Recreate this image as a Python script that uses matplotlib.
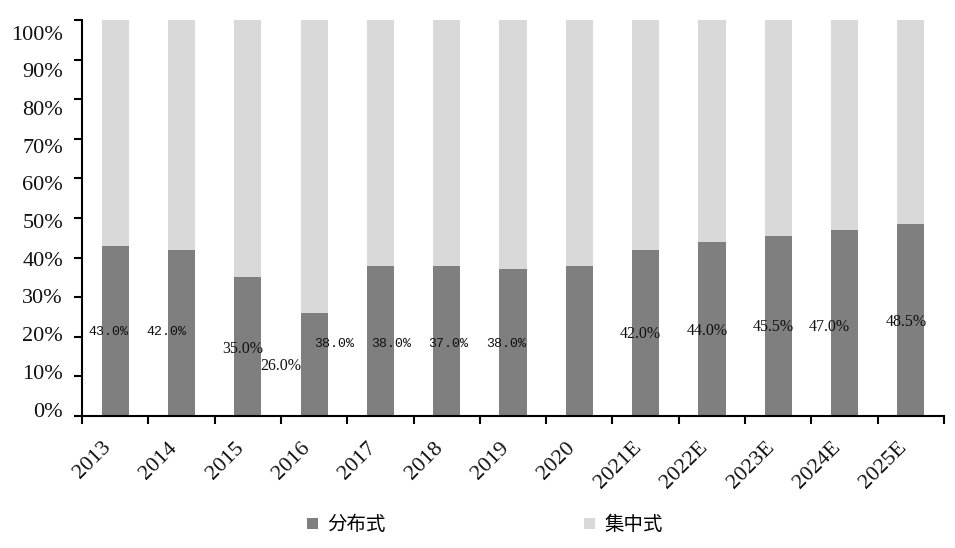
import matplotlib
matplotlib.use("Agg")
import matplotlib.pyplot as plt
import matplotlib.transforms as mtransforms
import numpy as np
from matplotlib.ticker import FixedLocator, NullFormatter

categories = ["2013", "2014", "2015", "2016", "2017", "2018", "2019", "2020",
              "2021E", "2022E", "2023E", "2024E", "2025E"]
distributed = [43.0, 42.0, 35.0, 26.0, 38.0, 38.0, 37.0, 38.0,
               42.0, 44.0, 45.5, 47.0, 48.5]
centralized = [100 - v for v in distributed]
series_names = ["分布式", "集中式"]
y_ticks = list(range(0, 101, 10))
y_tick_labels = [f"{t}%" for t in y_ticks]

# label placement (as drawn in the source chart, in category / percent units)
label_x = [-0.11, 0.77, 1.93, 2.49, 3.30, 4.16, 5.02, 5.90,
           7.92, 8.93, 9.92, 10.77, 11.93]
label_y = [21.2, 21.2, 16.9, 12.6, 18.2, 18.2, 18.2, 18.2,
           20.7, 21.5, 22.5, 22.5, 23.7]
label_small = [True, True, False, False, True, True, True, True,
               False, False, False, False, False]

dark = "#7f7f7f"
light = "#d9d9d9"
serif = ["Liberation Serif", "DejaVu Serif"]

fig = plt.figure(figsize=(9.55, 5.48), dpi=100)
ax = fig.add_axes([0.0859, 1 - 416 / 548, 0.9885 - 0.0859, (416 - 20) / 548])

x = np.arange(len(categories))
w = 0.41
ax.bar(x, distributed, w, color=dark, label=series_names[0], zorder=2)
ax.bar(x, centralized, w, bottom=distributed, color=light,
       label=series_names[1], zorder=2)

for v, lx, ly, small in zip(distributed, label_x, label_y, label_small):
    txt = f"{v:.1f}%"
    if small:
        ax.text(lx, ly, txt, ha="center", va="center", fontsize=9.5,
                family=["Liberation Mono", "DejaVu Sans Mono"], color="#111111", zorder=3)
    else:
        ax.text(lx, ly, txt, ha="center", va="center", fontsize=11.5,
                family=serif, color="#111111", zorder=3)

ax.set_xlim(-0.5, len(categories) - 0.5)
ax.set_ylim(0, 100)
ax.yaxis.set_major_locator(FixedLocator(y_ticks))
ax.yaxis.set_major_formatter(NullFormatter())

# y tick labels are spread slightly tighter than the tick marks in the source
ylab_tr = mtransforms.offset_copy(ax.get_yaxis_transform(), fig=fig,
                                  x=-19, y=0, units="dots")
n = len(y_ticks)
for k, lab in enumerate(y_tick_labels):
    ypos = 1.0 + k * (96.2 - 1.0) / (n - 1)
    ax.text(0, ypos, lab, transform=ylab_tr, ha="right", va="center",
            fontsize=16, family=serif, color="#111111", clip_on=False)

ax.set_xticks(x)
ax.set_xticklabels(categories, rotation=45, ha="right", va="top")
ax.xaxis.set_minor_locator(FixedLocator(np.arange(-0.5, len(categories), 1.0)))
ax.tick_params(axis="x", which="major", length=0, pad=16)
ax.tick_params(axis="x", which="minor", length=6, width=1.5, direction="out")
ax.tick_params(axis="y", which="major", length=6, width=1.5, direction="out")

for lab in ax.get_xticklabels():
    lab.set_fontfamily(serif)
    lab.set_fontsize(16)
    lab.set_color("#111111")

for s in ["top", "right"]:
    ax.spines[s].set_visible(False)
for s in ["left", "bottom"]:
    ax.spines[s].set_linewidth(1.5)

leg = fig.legend(loc="center", bbox_to_anchor=(0.508, 0.042), ncol=2,
                 frameon=False, handlelength=0.55, handleheight=0.55,
                 handletextpad=0.5, columnspacing=10.2,
                 prop={"family": ["Noto Sans CJK SC", "DejaVu Sans"], "size": 14})

fig.savefig("out.png", dpi=100)
